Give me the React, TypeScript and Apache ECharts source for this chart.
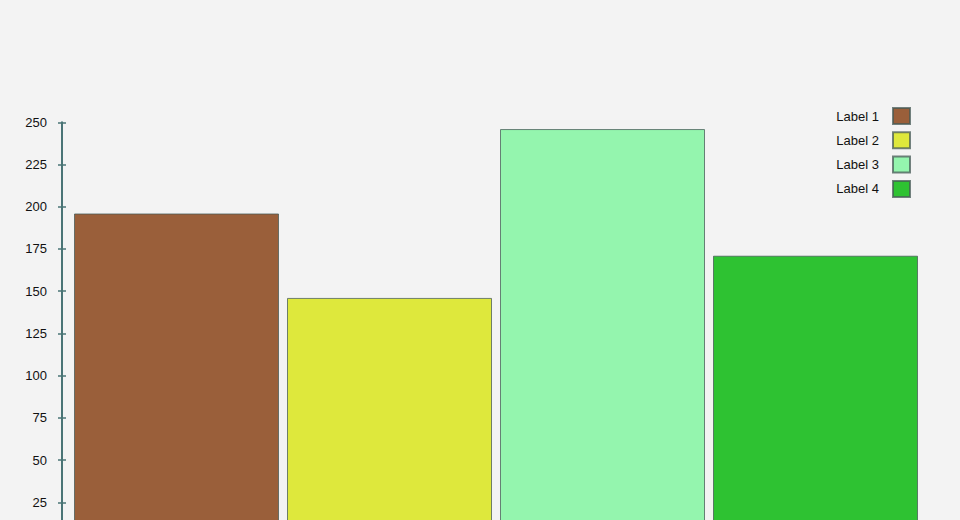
import React, { useEffect, useRef } from "react";
import * as echarts from "echarts";

const categories = ["Label 1", "Label 2", "Label 3", "Label 4"];
const values = [196, 146, 246, 171];
const colors = ["#9a5f3a", "#dee83c", "#94f5ae", "#2ec232"];
const yTicks = { min: 0, max: 250, interval: 25 };

export default function App() {
  const ref = useRef<HTMLDivElement>(null);
  useEffect(() => {
    if (!ref.current) return;
    const chart = echarts.init(ref.current, undefined, { renderer: "svg" });
    const axisColor = "#4a7476";
    const series = categories.map((name, i) => ({
      name,
      type: "bar",
      stack: "all",
      barWidth: 205,
      data: categories.map((_, j) => (j === i ? values[i] : "-")),
      itemStyle: {
        color: colors[i],
        borderColor: "rgba(70,90,85,0.75)",
        borderWidth: 1,
      },
    }));
    chart.setOption({
      animation: false,
      backgroundColor: "#f3f3f3",
      textStyle: { fontFamily: "Liberation Sans, Arial, sans-serif" },
      grid: { left: 70, right: 38, top: 122.3, height: 422.2, containLabel: false },
      legend: {
        orient: "vertical",
        right: 44,
        top: 102,
        align: "right",
        icon: "rect",
        itemWidth: 17,
        itemHeight: 16,
        itemGap: 6.3,
        data: categories,
        textStyle: { fontSize: 13, color: "#111", padding: [0, 9, 0, 0] },
      },
      xAxis: {
        type: "category",
        data: categories,
        axisLine: { show: false },
        axisTick: { show: false },
        axisLabel: { show: false },
      },
      yAxis: [
        {
          type: "value",
          min: yTicks.min,
          max: yTicks.max,
          interval: yTicks.interval,
          position: "left",
          offset: 8,
          axisLine: { show: true, lineStyle: { color: axisColor, width: 2 } },
          axisTick: { show: false },
          splitLine: { show: false },
          axisLabel: {
            show: true,
            margin: 15,
            color: "#111",
            fontSize: 13,
            formatter: (v: number) => (v === 0 ? "" : String(v)),
          },
        },
        {
          type: "value",
          min: yTicks.min,
          max: yTicks.max,
          interval: yTicks.interval,
          position: "left",
          offset: 4,
          axisLine: { show: false },
          axisTick: { show: true, length: 8, lineStyle: { color: axisColor, width: 1.5 } },
          splitLine: { show: false },
          axisLabel: { show: false },
        },
      ],
      series,
    });
    return () => chart.dispose();
  }, []);
  return (
    <div
      ref={ref}
      style={{ position: "absolute", left: 0, top: 0, width: 960, height: 600 }}
    />
  );
}
